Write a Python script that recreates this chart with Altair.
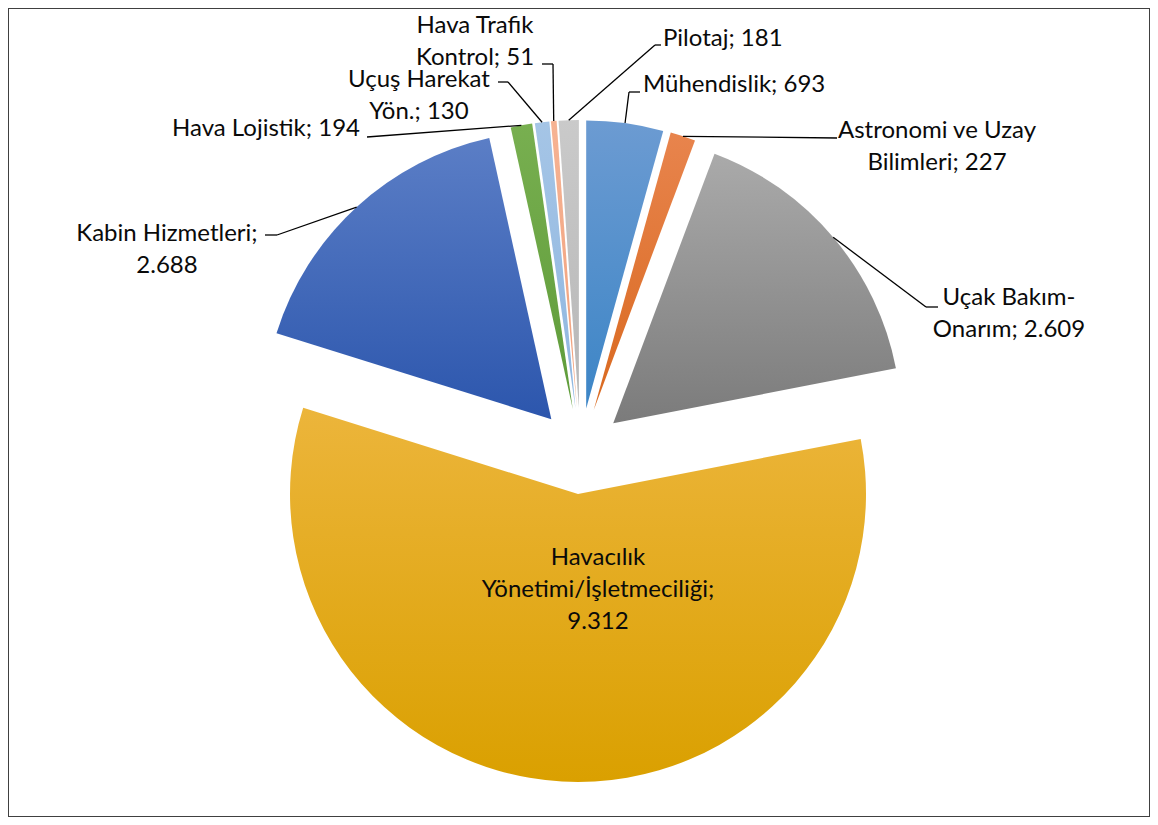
import altair as alt
import pandas as pd

# ---- data ----
categories = [
    "Mühendislik",
    "Astronomi ve Uzay Bilimleri",
    "Uçak Bakım-Onarım",
    "Havacılık Yönetimi/İşletmeciliği",
    "Kabin Hizmetleri",
    "Hava Lojistik",
    "Uçuş Harekat Yön.",
    "Hava Trafik Kontrol",
    "Pilotaj",
]
values = [693, 227, 2609, 9312, 2688, 194, 130, 51, 181]
label_texts = [
    "Mühendislik; 693",
    "Astronomi ve Uzay\nBilimleri; 227",
    "Uçak Bakım-\nOnarım; 2.609",
    "Havacılık\nYönetimi/İşletmeciliği;\n9.312",
    "Kabin Hizmetleri;\n2.688",
    "Hava Lojistik; 194",
    "Uçuş Harekat\nYön.; 130",
    "Hava Trafik\nKontrol; 51",
    "Pilotaj; 181",
]

# ---- styles ----
top_colors = ["#6C9BD2", "#E8844D", "#AAAAAA", "#ECB53B", "#5B7EC6",
              "#78AF50", "#A5C5E6", "#F6B393", "#CACACA"]
bottom_colors = ["#3C85C6", "#D9691F", "#7B7B7B", "#DAA000", "#2C56AD",
                 "#5E9B39", "#8FB6E0", "#F0A07C", "#B6B6B6"]

# ---- layout (pixels inside the view) ----
OFF = 8
CX, CY = 580.4 - OFF, 451 - OFF   # pie centre before explosion
R = 288                            # radius
D = 43                             # explosion distance

label_align = ["left", "center", "center", "center", "center",
               "right", "center", "center", "left"]
label_x = [643, 937, 1009, 598, 167, 360, 419, 475, 663]
label_y = [92, 138, 305, 565, 241, 136, 87, 33, 46]
elbow_x = [629, 837, 926, None, 277, 367, 508, 553, 655]
elbow_y = [92, 138, 307, None, 235, 137, 82, 64, 45]
end_x = [640, 837, 938, None, 265, 367, 498, 542, 661]
end_y = [92, 138, 307, None, 235, 137, 82, 64, 45]


def sh(v):
    return None if v is None else v - OFF


df = pd.DataFrame({
    "idx": list(range(len(categories))),
    "category": categories,
    "value": values,
    "label": label_texts,
    "align": label_align,
    "tx": [v - OFF for v in label_x],
    "ty": [v - OFF for v in label_y],
    "ex": [sh(v) for v in elbow_x],
    "ey": [sh(v) for v in elbow_y],
    "fx": [sh(v) for v in end_x],
    "fy": [sh(v) for v in end_y],
})

base = (
    alt.Chart(df)
    .transform_window(cum="sum(value)", frame=[None, 0], sort=[alt.SortField("idx")])
    .transform_joinaggregate(total="sum(value)")
    .transform_calculate(
        a0="2*PI*(datum.cum-datum.value)/datum.total",
        a1="2*PI*datum.cum/datum.total",
    )
    .transform_calculate(mid="(datum.a0+datum.a1)/2")
    .transform_calculate(
        cx=f"{CX}+{D}*sin(datum.mid)",
        cy=f"{CY}-{D}*cos(datum.mid)",
    )
    .transform_calculate(
        sx=f"datum.cx+{R}*sin(datum.mid)",
        sy=f"datum.cy-{R}*cos(datum.mid)",
    )
)

layers = []
for i in range(len(categories)):
    grad = alt.Gradient(
        gradient="linear",
        stops=[alt.GradientStop(color=top_colors[i], offset=0),
               alt.GradientStop(color=bottom_colors[i], offset=1)],
        x1=0, x2=0, y1=0, y2=1,
    )
    layers.append(
        base.transform_filter(alt.datum.idx == i)
        .mark_arc(radius=R, fill=grad)
        .encode(
            x=alt.X("cx:Q", scale=None, axis=None),
            y=alt.Y("cy:Q", scale=None, axis=None),
            theta=alt.Theta("a0:Q", scale=None),
            theta2=alt.Theta2("a1"),
        )
    )

lead = base.transform_filter("isValid(datum.ex)")
layers.append(
    lead.mark_rule(color="#000000", strokeWidth=1.3).encode(
        x=alt.X("sx:Q", scale=None, axis=None),
        y=alt.Y("sy:Q", scale=None, axis=None),
        x2="ex:Q", y2="ey:Q",
    )
)
layers.append(
    lead.mark_rule(color="#000000", strokeWidth=1.3).encode(
        x=alt.X("ex:Q", scale=None, axis=None),
        y=alt.Y("ey:Q", scale=None, axis=None),
        x2="fx:Q", y2="fy:Q",
    )
)

for al in ["left", "center", "right"]:
    layers.append(
        base.transform_filter(alt.datum.align == al)
        .mark_text(align=al, baseline="alphabetic", lineBreak="\n",
                   lineHeight=32, font="Lato", fontSize=24, color="#0A0A0A")
        .encode(
            x=alt.X("tx:Q", scale=None, axis=None),
            y=alt.Y("ty:Q", scale=None, axis=None),
            text="label:N",
        )
    )

chart = (
    alt.layer(*layers)
    .properties(width=1142, height=809, padding=0, autosize="none")
    .configure_view(stroke="#404040", strokeWidth=2)
)

chart.save("out.html", embed_options={"renderer": "svg", "actions": False})
